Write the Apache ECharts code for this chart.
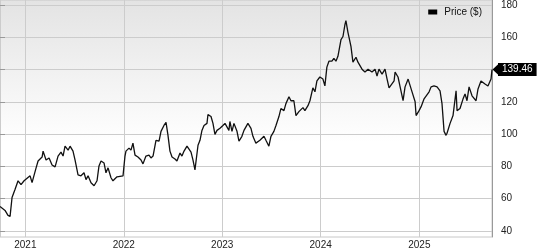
<!DOCTYPE html>
<html><head><meta charset="utf-8">
<script src="https://cdn.jsdelivr.net/npm/echarts@6/dist/echarts.min.js"></script>
<style>html,body{margin:0;padding:0;background:#fff}#c{width:538px;height:250px}</style>
</head><body><div id="c"></div>
<script>
// time as decimal years
var times = [2020.743,2020.763,2020.794,2020.824,2020.845,2020.865,2020.895,2020.926,2020.956,2020.987,
2021.048,2021.068,2021.109,2021.129,2021.170,2021.180,2021.210,2021.241,2021.271,2021.302,2021.332,2021.362,2021.383,2021.403,2021.434,2021.454,2021.484,2021.505,2021.535,2021.565,2021.596,2021.616,2021.637,2021.667,2021.698,2021.728,2021.748,2021.769,2021.799,2021.819,2021.840,2021.870,2021.890,2021.931,2021.951,2021.992,
2022.012,2022.022,2022.053,2022.073,2022.093,2022.114,2022.144,2022.175,2022.195,2022.225,2022.256,2022.276,2022.297,2022.327,2022.358,2022.378,2022.408,2022.429,2022.449,2022.469,2022.490,2022.520,2022.540,2022.571,2022.591,2022.612,2022.642,2022.662,2022.683,2022.703,2022.723,2022.754,2022.774,2022.794,2022.815,2022.845,2022.855,2022.886,2022.906,2022.926,2022.947,2022.977,
2023.007,2023.028,2023.048,2023.068,2023.078,2023.099,2023.119,2023.150,2023.170,2023.200,2023.221,2023.261,2023.292,2023.312,2023.342,2023.383,2023.424,2023.444,2023.474,2023.495,2023.525,2023.546,2023.576,2023.596,2023.627,2023.647,2023.678,2023.698,2023.728,2023.749,2023.779,2023.799,2023.820,2023.840,2023.871,2023.891,2023.921,2023.942,2023.962,2023.992,
2024.023,2024.043,2024.063,2024.084,2024.114,2024.134,2024.155,2024.175,2024.206,2024.226,2024.246,2024.256,2024.277,2024.307,2024.327,2024.358,2024.378,2024.419,2024.449,2024.480,2024.520,2024.551,2024.571,2024.591,2024.622,2024.652,2024.673,2024.693,2024.713,2024.744,2024.754,2024.784,2024.805,2024.835,2024.855,2024.886,2024.906,2024.926,2024.957,2024.967,2024.997,
2025.018,2025.048,2025.068,2025.099,2025.119,2025.149,2025.180,2025.210,2025.230,2025.251,2025.271,2025.281,2025.312,2025.342,2025.373,2025.383,2025.413,2025.444,2025.464,2025.484,2025.505,2025.535,2025.576,2025.596,2025.626,2025.667,2025.697,2025.728,2025.738];

var prices = [53.6,53.0,51.1,48.0,47.4,59.2,64.2,69.7,67.3,69.7,
72.8,68.5,77.8,82.1,84.6,88.3,82.7,84.0,79.6,78.4,85.2,87.7,85.2,91.4,88.9,91.4,88.3,82.7,73.4,72.8,74.7,70.4,72.8,68.5,66.6,69.7,79.0,82.1,80.9,74.7,77.8,71.6,69.7,72.2,72.2,72.8,
85.2,88.3,90.2,88.9,93.3,85.8,84.6,82.7,80.3,85.2,85.8,84.0,85.2,95.1,94.5,100.7,104.4,106.3,98.2,88.3,84.6,83.4,82.1,87.1,85.2,88.3,91.4,90.8,87.7,82.7,76.5,92.0,95.1,101.3,104.4,105.7,111.2,110.0,105.7,98.8,101.3,102.6,
104.4,105.7,106.9,101.3,106.9,100.7,105.7,100.7,94.5,97.6,101.3,105.7,102.6,97.6,93.3,95.1,97.6,95.1,91.4,97.6,100.7,104.4,110.0,115.0,113.7,118.1,122.4,119.9,119.9,110.6,113.1,111.9,115.6,113.7,116.8,119.9,128.0,125.5,132.3,134.8,
133.5,129.2,141.0,144.7,144.7,146.5,144.7,147.8,158.3,160.2,167.6,170.1,162.7,154.0,144.1,147.2,144.1,139.7,137.9,139.7,137.9,139.7,135.4,139.7,136.6,139.7,133.5,128.0,128.6,132.3,137.9,134.8,128.6,120.0,128.6,133.5,132.3,125.5,119.3,110.6,113.7,
116.2,121.1,119.9,125.5,128.6,129.2,128.6,126.1,118.1,100.7,98.2,99.5,105.7,110.6,126.1,113.7,115.0,121.1,124.2,119.9,128.6,123.0,119.9,127.3,132.3,130.4,129.2,133.5,139.46];

var yTicks = {min: 40, max: 180, step: 20};
var xLabelFormat = '{yyyy}';
var seriesName = 'Price ($)';

function toTs(d) {
  var y = Math.floor(d);
  var a = Date.UTC(y, 0, 1), b = Date.UTC(y + 1, 0, 1);
  return a + (d - y) * (b - a);
}
var data = times.map(function (t, i) { return [toTs(t), prices[i]]; });
var last = data[data.length - 1];

var FONT = 'Liberation Sans, Arial, sans-serif';
var chart = echarts.init(document.getElementById('c'));
chart.setOption({
  animation: false,
  textStyle: {fontFamily: FONT},
  legend: {
    right: 56, top: 7, padding: 0, icon: 'rect', itemWidth: 9, itemHeight: 5, itemGap: 8,
    textStyle: {fontSize: 10, color: '#111', fontFamily: FONT, padding: [0, 0, 0, 2]},
    data: [seriesName]
  },
  grid: [
    {left: 0, right: 46, top: 0, bottom: 10, show: true, borderColor: '#c8c8c8', borderWidth: 1,
     backgroundColor: new echarts.graphic.LinearGradient(0, 0, 0, 1, [
       {offset: 0, color: '#e3e3e3'}, {offset: 0.6, color: '#ffffff'}, {offset: 1, color: '#ffffff'}])},
    {left: 0, right: 46, top: 5, bottom: 19, show: false}
  ],
  xAxis: [
    {type: 'time', gridIndex: 0, min: 'dataMin', max: 'dataMax',
     axisLine: {show: false}, axisTick: {show: false},
     splitLine: {show: true, lineStyle: {color: '#cccccc', width: 1}},
     axisLabel: {formatter: xLabelFormat, color: '#222', fontSize: 10, margin: 3,
                 showMinLabel: false, showMaxLabel: false, fontFamily: FONT}},
    {type: 'value', gridIndex: 1, show: false, min: 0, max: 1}
  ],
  yAxis: [
    {type: 'value', gridIndex: 0, position: 'right', min: 34.43, max: 183.1,
     axisLine: {show: true, lineStyle: {color: '#999'}}, axisTick: {show: false},
     axisLabel: {show: false}, splitLine: {show: false}},
    {type: 'value', gridIndex: 1, position: 'right', min: yTicks.min, max: yTicks.max, interval: yTicks.step,
     axisLine: {show: false},
     axisTick: {show: true, length: 5, lineStyle: {color: '#999'}},
     axisLabel: {color: '#222', fontSize: 10, margin: 9, fontFamily: FONT},
     splitLine: {show: true, lineStyle: {color: '#cccccc', width: 1}}}
  ],
  series: [{
    name: seriesName, type: 'line', xAxisIndex: 0, yAxisIndex: 0, data: data,
    showSymbol: false, symbol: 'none', z: 5,
    color: '#000',
    lineStyle: {color: '#111', width: 1.3},
    endLabel: {
      show: true, distance: 6,
      formatter: function (p) { return p.value[1].toFixed(2); },
      backgroundColor: '#000', color: '#fff', fontSize: 10, fontFamily: FONT,
      padding: [2, 4, 1, 4]
    },
    markPoint: {
      silent: true, symbol: 'triangle', symbolSize: [13, 7], symbolRotate: 90,
      itemStyle: {color: '#000'}, label: {show: false},
      data: [{coord: last, symbolOffset: [4, 0]}]
    }
  }]
});
</script></body></html>
